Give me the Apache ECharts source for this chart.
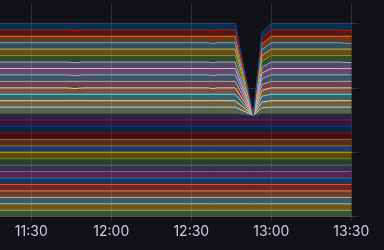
<!DOCTYPE html>
<html><head><meta charset="utf-8">
<script src="https://cdn.jsdelivr.net/npm/echarts@6/dist/echarts.min.js"></script>
<style>html,body{margin:0;padding:0;background:#111217}#c{width:384px;height:250px}#e{position:absolute;top:0;left:0;color:#fff;font:10px sans-serif;width:380px}</style>
</head><body><div id="c"></div><div id="e"></div>
<script>
window.onerror = function(m){ document.getElementById('e').textContent += ' ERR: ' + m; };
// time points, minutes since midnight (UTC)
const times = [660, 703.4, 706.4, 709.4, 756.3, 758.1, 760, 766.4, 773.25, 776.5, 780, 805, 810];
const xTicks = [690, 720, 750, 780, 810];
const xTickLabels = ['11:30', '12:00', '12:30', '13:00', '13:30'];
const yTicks = [0, 10, 20, 30];
const colors = ['#7EB26D','#EAB839','#6ED0E0','#EF843C','#E24D42','#1F78C1','#BA43A9','#705DA0','#508642','#CCA300','#447EBC','#C15C17','#890F02','#0A437C','#6D1F62','#584477','#B7DBAB','#F4D598','#70DBED','#F9BA8F','#F29191','#82B5D8','#E5A8E2','#AEA2E0','#629E51','#E5AC0E','#64B0C8','#E0752D','#BF1B00','#0A50A1'];
const s0  = [1,1,1,1,1,1,1,1,1,1,1,1,1];
const s1  = [1,1,1,1,1,1,1,1,1,1,1,1,1];
const s2  = [1,1,1,1,1,1,1,1,1,1,1,1,1];
const s3  = [1,1,1,1,1,1,1,1,1,1,1,1,1];
const s4  = [1,1,1,1,1,1,1,1,1,1,1,1,1];
const s5  = [1,1,1,1,1,1,1,1,1,1,1,1,1];
const s6  = [1,1,1,1,1,1,1,1,1,1,1,1,1];
const s7  = [1,1,1,1,1,1,1,1,1,1,1,1,1];
const s8  = [1,1,1,1,1,1,1,1,1,1,1,1,1];
const s9  = [1,1,1,1,1,1,1,1,1,1,1,1,1];
const s10 = [1,1,1,1,1,1,1,1,1,1,1,1,1];
const s11 = [1,1,1,1,1,1,1,1,1,1,1,1,1];
const s12 = [1,1,1,1,1,1,1,1,1,1,1,1,1];
const s13 = [1,1,1,1,1,1,1,1,1,1,1,1,1];
const s14 = [1,1,1,1,1,1,1,1,1,1,1,1,1];
const s15 = [1,1,1,1,1,1,1,1,0.75,1,1,1,1];
const s16 = [1,1,1,1,1,1,1,1,0,0.9,1,1,1];
const s17 = [1,1,1,1,1,1,1,1,0,0.9,1,1,1];
const s18 = [1,1,1,1,1,1,1,1,0,0.9,1,1,1];
const s19 = [1,1,0.88,1,1,0.88,1,1,0,0.9,1,1,1];
const s20 = [1,1,1.12,1,1,1.12,1,1,0,0.9,1,1,1];
const s21 = [1,1,0.88,1,1,0.88,1,1,0,0.9,1,1,1];
const s22 = [1,1,1.12,1,1,1.12,1,1,0,0.9,1,1,1];
const s23 = [1,1,0.88,1,1,0.88,1,1,0,0.9,1,1,0.9];
const s24 = [1,1,1.12,1,1,1.12,1,1,0,0.9,1,1,1.1];
const s25 = [1,1,1,1,1,1,1,1,0,0.9,1,1,1];
const s26 = [1,1,1,1,1,0.88,1,1,0,0.9,1,1,0.85];
const s27 = [1,1,1,1,1,1.12,1,1,0,0.9,1,1,1.15];
const s28 = [1,1,0.88,1,1,0.88,1,1,0,0.9,1,1,0.8];
const s29 = [1,1,1.12,1,1,1.12,1,1,0,0.9,1,1,1.2];
const seriesValues = [s0,s1,s2,s3,s4,s5,s6,s7,s8,s9,s10,s11,s12,s13,s14,s15,s16,s17,s18,s19,s20,s21,s22,s23,s24,s25,s26,s27,s28,s29];

const BASE = Date.UTC(2024, 0, 1);
const toMs = m => BASE + m * 60000;
const gridColor = 'rgba(204,204,220,0.16)';
try {
const chart = echarts.init(document.getElementById('c'));
chart.setOption({
  useUTC: true,
  backgroundColor: '#111217',
  animation: false,
  grid: { left: -48.7, right: 32.7, top: 4, bottom: 33.3, outerBoundsMode: 'none', containLabel: false },
  xAxis: [{
    type: 'time', position: 'top', min: toMs(660), max: toMs(810), show: false
  }, {
    type: 'value', position: 'bottom', min: 660, max: 810, interval: 30,
    axisLine: { show: false },
    axisTick: { show: true, length: 4, lineStyle: { color: gridColor } },
    splitLine: { show: true, lineStyle: { color: gridColor } },
    axisLabel: {
      color: '#ccccdc', fontSize: 14, fontFamily: 'Inter', margin: 8,
      formatter: v => { const i = xTicks.indexOf(v); return i >= 0 ? xTickLabels[i] : ''; }
    }
  }],
  yAxis: {
    type: 'value', position: 'right', min: 0, max: 33, interval: 10,
    axisLine: { show: false },
    axisLabel: { show: false },
    axisTick: { show: true, length: 7, lineStyle: { color: gridColor }, customValues: yTicks },
    splitLine: { show: true, showMaxLine: false, lineStyle: { color: gridColor } }
  },
  series: seriesValues.map((vals, k) => ({
    type: 'line', stack: 'total', showSymbol: false, xAxisIndex: 0,
    data: times.map((t, i) => [toMs(t), vals[i]]),
    lineStyle: { width: 1, color: colors[k] },
    itemStyle: { color: colors[k] },
    areaStyle: { color: colors[k], opacity: 0.4 }
  }))
});
} catch (err) { document.getElementById('e').textContent += ' CATCH: ' + err.message; }
</script></body></html>
